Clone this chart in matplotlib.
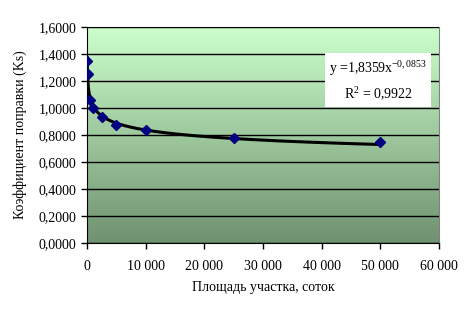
import numpy as np
import matplotlib.pyplot as plt
from matplotlib.ticker import FuncFormatter

plt.rcParams['font.family'] = 'Liberation Serif'
plt.rcParams['mathtext.fontset'] = 'custom'
plt.rcParams['mathtext.rm'] = 'Liberation Serif'
plt.rcParams['mathtext.it'] = 'Liberation Serif'

# Площадь участка и коэффициент поправки
ploshad = [30, 100, 500, 1000, 2500, 5000, 10000, 25000, 50000]
koef = [1.35, 1.25, 1.06, 1.0, 0.93, 0.875, 0.835, 0.78, 0.745]

# коэффициенты степенного тренда с подписи на графике
trend_a = 1.8359
trend_b = -0.0853
eq_text = 'y =1,8359x$^{-0,0853}$'
r2_text = 'R$^{2}$ = 0,9922'

xs = np.geomspace(ploshad[0], ploshad[-1], 300)
ys = trend_a * xs ** trend_b

fig = plt.figure(figsize=(4.73, 3.14), dpi=100)
ax = fig.add_axes([87 / 473, 1 - 243 / 314, 352 / 473, 216 / 314])

# градиентный фон области построения
grad = np.linspace(0, 1, 256).reshape(-1, 1)
top = np.array([204, 255, 204]) / 255
bottom = np.array([112, 145, 112]) / 255
img = top + (bottom - top) * grad[:, :, None]
ax.imshow(img, extent=[0, 60000, 0, 1.6], aspect='auto', zorder=0)

ax.set_xlim(0, 60000)
ax.set_ylim(0, 1.6)
ax.set_yticks(np.arange(0, 1.61, 0.2))
ax.set_xticks(np.arange(0, 60001, 10000))
ax.grid(axis='y', color='black', linewidth=1)
ax.set_axisbelow(False)

ax.plot(xs, ys, color='black', linewidth=2.2, zorder=3)
ax.plot(ploshad, koef, linestyle='none', marker='D', markersize=5,
        color='#000080', zorder=4)

ax.yaxis.set_major_formatter(FuncFormatter(lambda v, p: f'{v:.4f}'.replace('.', ',')))
ax.xaxis.set_major_formatter(FuncFormatter(lambda v, p: f'{int(v):,}'.replace(',', ' ')))
ax.tick_params(direction='out', length=4, width=1, labelsize=10, color='black')
ax.tick_params(axis='x', pad=8)

for s in ['top', 'right']:
    ax.spines[s].set_color('#808080')
for s in ['left', 'bottom']:
    ax.spines[s].set_color('black')

ax.set_xlabel('Площадь участка, соток', fontsize=10, labelpad=6)
ax.set_ylabel('Коэффициент поправки (Ks)', fontsize=10, labelpad=8)

ax.text(0.827, 0.75, eq_text + '\n' + r2_text, transform=ax.transAxes,
        ha='center', va='center', fontsize=10, linespacing=1.6, zorder=5,
        bbox=dict(facecolor='white', edgecolor='none', pad=3))

fig.savefig('out.png', dpi=100)
